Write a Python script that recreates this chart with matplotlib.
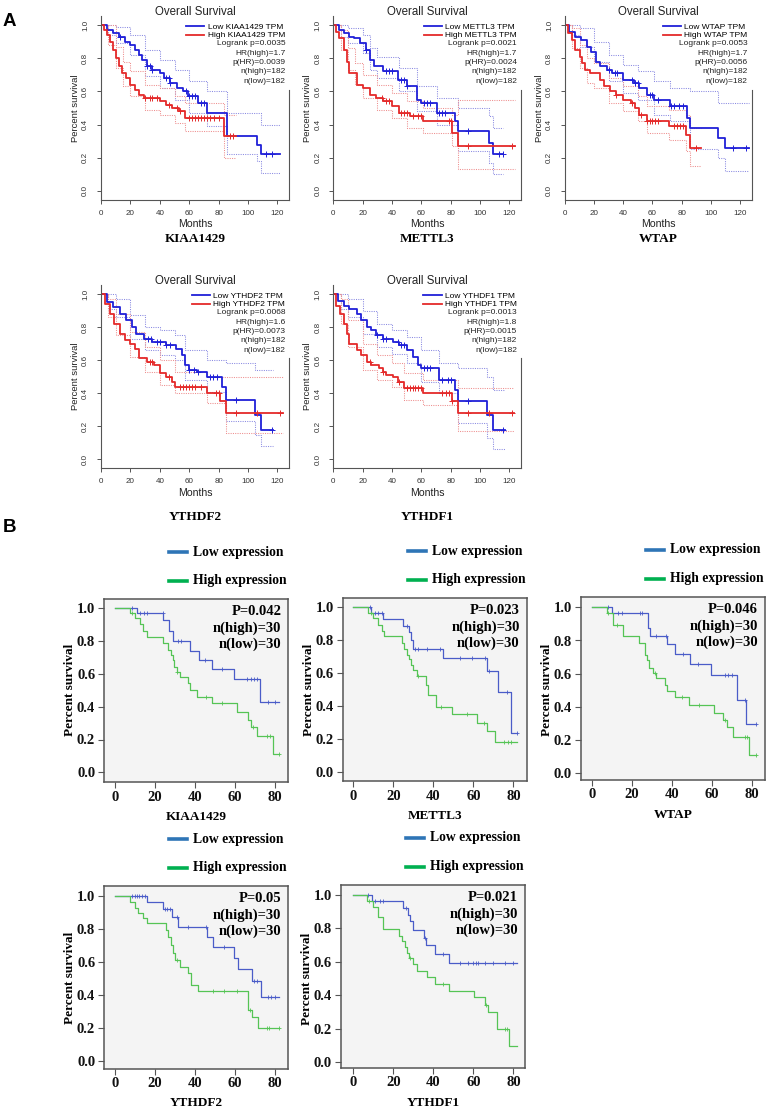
import matplotlib
matplotlib.use('agg')
import matplotlib.pyplot as plt
import numpy as np

# ---------------- Panel A: GEPIA overall survival (TCGA) ----------------
a_genes = ['KIAA1429', 'METTL3', 'WTAP', 'YTHDF2', 'YTHDF1']
a_logrank = ['0.0035', '0.0021', '0.0053', '0.0068', '0.0013']
a_hr = ['1.7', '1.7', '1.7', '1.6', '1.8']
a_phr = ['0.0039', '0.0024', '0.0056', '0.0073', '0.0015']
a_n_high = 182
a_n_low = 182

# KIAA1429
kiaa_low_t = [0, 4, 8, 12, 16, 20, 23, 26, 28, 31, 35, 40, 43, 47, 52, 56, 59, 66, 72, 86, 106, 109, 122]
kiaa_low_s = [1.0, 0.97, 0.95, 0.93, 0.90, 0.88, 0.85, 0.82, 0.79, 0.75, 0.73, 0.71, 0.68, 0.65, 0.62, 0.60,
              0.57, 0.53, 0.47, 0.33, 0.28, 0.22, 0.22]
kiaa_low_cens = [13, 31, 33, 35, 44, 46, 47, 58, 60, 62, 64, 68, 70, 112, 116]
kiaa_low_ci_t = [0, 5, 10, 20, 30, 40, 50, 60, 72, 86, 106, 109, 122]
kiaa_low_ci_up = [1.0, 1.0, 0.99, 0.94, 0.85, 0.79, 0.73, 0.66, 0.60, 0.47, 0.47, 0.40, 0.40]
kiaa_low_ci_lo = [1.0, 0.94, 0.89, 0.82, 0.69, 0.62, 0.55, 0.47, 0.39, 0.22, 0.18, 0.11, 0.11]
kiaa_high_t = [0, 2, 4, 6, 8, 10, 12, 14, 17, 20, 23, 26, 29, 40, 44, 48, 53, 57, 84, 92]
kiaa_high_s = [1.0, 0.97, 0.94, 0.90, 0.85, 0.80, 0.75, 0.71, 0.68, 0.64, 0.61, 0.58, 0.56, 0.54, 0.52,
               0.50, 0.48, 0.44, 0.33, 0.33]
kiaa_high_cens = [30, 33, 35, 38, 46, 52, 54, 60, 62, 64, 66, 68, 70, 72, 74, 77, 80, 88, 90]
kiaa_high_ci_t = [0, 5, 10, 15, 20, 30, 40, 50, 57, 84, 92]
kiaa_high_ci_up = [1.0, 1.0, 0.87, 0.78, 0.72, 0.64, 0.62, 0.57, 0.53, 0.46, 0.46]
kiaa_high_ci_lo = [1.0, 0.88, 0.74, 0.63, 0.57, 0.49, 0.46, 0.41, 0.36, 0.20, 0.20]

# METTL3
mettl3_low_t = [0, 4, 7, 11, 14, 18, 22, 25, 28, 34, 44, 50, 57, 60, 71, 83, 85, 106, 109, 116]
mettl3_low_s = [1.0, 0.97, 0.95, 0.93, 0.92, 0.89, 0.85, 0.79, 0.75, 0.72, 0.67, 0.63, 0.55, 0.53, 0.47,
                0.42, 0.36, 0.29, 0.22, 0.22]
mettl3_low_cens = [22, 36, 38, 40, 46, 48, 50, 62, 64, 66, 72, 74, 76, 92, 113, 116]
mettl3_low_ci_t = [0, 5, 10, 20, 25, 30, 45, 57, 71, 85, 106, 109, 116]
mettl3_low_ci_up = [1.0, 1.0, 0.98, 0.94, 0.86, 0.81, 0.74, 0.63, 0.56, 0.50, 0.45, 0.38, 0.38]
mettl3_low_ci_lo = [1.0, 0.93, 0.89, 0.83, 0.73, 0.68, 0.60, 0.48, 0.40, 0.24, 0.17, 0.10, 0.10]
mettl3_high_t = [0, 2, 4, 7, 9, 11, 16, 20, 25, 29, 34, 40, 45, 52, 61, 81, 85, 124]
mettl3_high_s = [1.0, 0.96, 0.92, 0.85, 0.78, 0.71, 0.64, 0.62, 0.58, 0.56, 0.54, 0.51, 0.47, 0.45, 0.42,
                 0.35, 0.27, 0.27]
mettl3_high_cens = [33, 36, 38, 46, 48, 50, 54, 58, 60, 79, 80, 92, 122]
mettl3_high_ci_t = [0, 5, 10, 15, 20, 30, 40, 50, 61, 81, 85, 124]
mettl3_high_ci_up = [1.0, 0.97, 0.86, 0.77, 0.70, 0.64, 0.59, 0.54, 0.50, 0.46, 0.55, 0.55]
mettl3_high_ci_lo = [1.0, 0.85, 0.73, 0.64, 0.56, 0.49, 0.44, 0.38, 0.35, 0.27, 0.13, 0.13]

# WTAP
wtap_low_t = [0, 3, 7, 11, 15, 18, 21, 24, 29, 32, 40, 47, 51, 56, 61, 72, 84, 86, 105, 110, 126]
wtap_low_s = [1.0, 0.96, 0.93, 0.91, 0.87, 0.84, 0.78, 0.75, 0.73, 0.71, 0.67, 0.65, 0.62, 0.58, 0.55,
              0.51, 0.44, 0.38, 0.32, 0.26, 0.26]
wtap_low_cens = [30, 34, 36, 46, 48, 50, 58, 60, 64, 73, 75, 78, 81, 115, 124]
wtap_low_ci_t = [0, 5, 10, 20, 30, 40, 50, 61, 72, 86, 105, 110, 126]
wtap_low_ci_up = [1.0, 1.0, 0.98, 0.90, 0.82, 0.76, 0.72, 0.66, 0.62, 0.60, 0.53, 0.53, 0.53]
wtap_low_ci_lo = [1.0, 0.94, 0.87, 0.78, 0.66, 0.59, 0.55, 0.46, 0.42, 0.25, 0.20, 0.12, 0.12]
wtap_high_t = [0, 2, 5, 7, 10, 11.5, 14, 17, 24, 27, 31, 35, 40, 45, 48, 51, 56, 71, 83, 86, 93]
wtap_high_s = [1.0, 0.95, 0.91, 0.85, 0.81, 0.77, 0.73, 0.71, 0.67, 0.63, 0.60, 0.58, 0.55, 0.53, 0.50,
               0.46, 0.42, 0.39, 0.34, 0.26, 0.26]
wtap_high_cens = [35, 46, 52, 56, 58, 60, 62, 64, 75, 77, 79, 81, 90]
wtap_high_ci_t = [0, 5, 10, 15, 20, 30, 40, 50, 56, 71, 83, 86, 93]
wtap_high_ci_up = [1.0, 0.98, 0.88, 0.80, 0.77, 0.68, 0.63, 0.57, 0.51, 0.49, 0.46, 0.38, 0.38]
wtap_high_ci_lo = [1.0, 0.86, 0.74, 0.65, 0.62, 0.53, 0.48, 0.42, 0.35, 0.31, 0.24, 0.15, 0.15]

# YTHDF2
ythdf2_low_t = [0, 4, 8, 13, 17, 21, 24, 29, 35, 44, 51, 55, 57, 60, 65, 72, 82, 85, 105, 109, 117]
ythdf2_low_s = [1.0, 0.95, 0.92, 0.88, 0.84, 0.80, 0.76, 0.73, 0.71, 0.69, 0.67, 0.63, 0.57, 0.54, 0.53,
                0.50, 0.44, 0.36, 0.27, 0.18, 0.18]
ythdf2_low_cens = [32, 34, 38, 40, 44, 47, 60, 63, 66, 74, 76, 79, 92, 116]
ythdf2_low_ci_t = [0, 5, 10, 20, 30, 40, 50, 57, 72, 85, 105, 109, 117]
ythdf2_low_ci_up = [1.0, 1.0, 0.97, 0.87, 0.80, 0.78, 0.75, 0.66, 0.60, 0.58, 0.54, 0.54, 0.54]
ythdf2_low_ci_lo = [1.0, 0.91, 0.86, 0.73, 0.66, 0.63, 0.60, 0.48, 0.41, 0.23, 0.15, 0.08, 0.08]
ythdf2_high_t = [0, 2.5, 6, 9, 13, 16, 19.5, 23, 26, 31, 36, 40, 44, 48, 50, 72, 81, 85, 124]
ythdf2_high_s = [1.0, 0.94, 0.88, 0.82, 0.76, 0.72, 0.70, 0.67, 0.61, 0.59, 0.57, 0.52, 0.50, 0.47, 0.44,
                 0.40, 0.35, 0.28, 0.28]
ythdf2_high_cens = [33, 35, 46, 54, 56, 58, 60, 62, 64, 68, 78, 80, 92, 106, 122]
ythdf2_high_ci_t = [0, 5, 10, 20, 30, 40, 50, 72, 85, 124]
ythdf2_high_ci_up = [1.0, 0.97, 0.88, 0.77, 0.68, 0.60, 0.53, 0.50, 0.50, 0.50]
ythdf2_high_ci_lo = [1.0, 0.86, 0.75, 0.62, 0.53, 0.45, 0.40, 0.34, 0.16, 0.16]

# YTHDF1
ythdf1_low_t = [0, 3, 7, 11, 16, 19, 23, 26, 29, 34, 41, 45, 50, 54, 58, 60, 72, 83, 85, 105, 109, 117]
ythdf1_low_s = [1.0, 0.96, 0.93, 0.91, 0.88, 0.84, 0.80, 0.78, 0.75, 0.73, 0.71, 0.69, 0.66, 0.62, 0.57,
                0.55, 0.48, 0.42, 0.35, 0.27, 0.18, 0.18]
ythdf1_low_cens = [30, 34, 36, 44, 46, 48, 62, 64, 66, 74, 78, 80, 92, 116]
ythdf1_low_ci_t = [0, 5, 10, 20, 30, 40, 50, 60, 72, 85, 105, 109, 117]
ythdf1_low_ci_up = [1.0, 1.0, 0.97, 0.90, 0.82, 0.78, 0.74, 0.66, 0.58, 0.55, 0.50, 0.42, 0.42]
ythdf1_low_ci_lo = [1.0, 0.91, 0.86, 0.76, 0.68, 0.64, 0.58, 0.47, 0.40, 0.22, 0.13, 0.06, 0.06]
ythdf1_high_t = [0, 2, 4.5, 7, 9, 11, 16, 19, 23, 26, 31, 34, 36, 41, 44, 48, 61, 81, 85, 123]
ythdf1_high_s = [1.0, 0.93, 0.88, 0.82, 0.76, 0.70, 0.66, 0.63, 0.59, 0.57, 0.55, 0.53, 0.51, 0.50, 0.47,
                 0.43, 0.40, 0.35, 0.28, 0.28]
ythdf1_high_cens = [25, 34, 45, 50, 52, 54, 56, 58, 60, 74, 77, 79, 81, 92, 106, 122]
ythdf1_high_ci_t = [0, 5, 10, 20, 30, 40, 48, 61, 85, 123]
ythdf1_high_ci_up = [1.0, 0.97, 0.84, 0.70, 0.63, 0.58, 0.52, 0.48, 0.43, 0.43]
ythdf1_high_ci_lo = [1.0, 0.82, 0.68, 0.54, 0.48, 0.44, 0.36, 0.33, 0.17, 0.17]

# ---------------- Panel B: own cohort ----------------
b_genes = ['KIAA1429', 'METTL3', 'WTAP', 'YTHDF2', 'YTHDF1']
b_pvals = ['0.042', '0.023', '0.046', '0.05', '0.021']
b_n_high = 30
b_n_low = 30

b_kiaa_low_t = [0, 10.8, 24.2, 27.2, 28.8, 37.5, 42, 48.7, 59.5, 72.5, 82]
b_kiaa_low_s = [1.0, 0.97, 0.93, 0.86, 0.80, 0.74, 0.685, 0.63, 0.57, 0.43, 0.43]
b_kiaa_low_cens = [8.5, 12.5, 14.5, 16, 24, 31.5, 33, 45, 53.5, 66, 68, 69.5, 71, 76.5, 80]
b_kiaa_high_t = [0, 7.5, 10, 12.5, 14.2, 15.8, 24.2, 26.7, 27.8, 28.8, 29.5, 30.8, 32.5, 36.7, 37.5, 40.8,
                 48.7, 61.2, 66.7, 67.8, 70.8, 79, 82]
b_kiaa_high_s = [1.0, 0.97, 0.94, 0.905, 0.864, 0.827, 0.787, 0.746, 0.715, 0.685, 0.644, 0.614, 0.583,
                 0.543, 0.502, 0.461, 0.42, 0.37, 0.32, 0.278, 0.224, 0.112, 0.112]
b_kiaa_high_cens = [8.5, 31, 45.5, 53.5, 69, 76, 77.5, 82]

b_mettl3_low_t = [0, 8.7, 15, 25, 27.8, 28.8, 30, 45, 66.7, 72.5, 78.8, 82]
b_mettl3_low_s = [1.0, 0.968, 0.927, 0.887, 0.853, 0.80, 0.747, 0.69, 0.616, 0.485, 0.236, 0.236]
b_mettl3_low_cens = [8.3, 10.8, 12.5, 14.2, 27, 31, 32.5, 36.7, 43.3, 53.5, 59.5, 66, 68, 77, 82]
b_mettl3_high_t = [0, 7.5, 10, 12.5, 14.2, 15.5, 24.2, 25.3, 26.7, 28, 29, 30, 31.7, 36.2, 37.5, 41.3,
                   49.2, 61.7, 66.7, 70.8, 82]
b_mettl3_high_s = [1.0, 0.968, 0.933, 0.893, 0.859, 0.826, 0.786, 0.75, 0.711, 0.685, 0.65, 0.62, 0.584,
                   0.53, 0.469, 0.398, 0.354, 0.30, 0.248, 0.182, 0.182]
b_mettl3_high_cens = [9, 32.5, 44, 57, 65.5, 75.5, 77.5, 79]

b_wtap_low_t = [0, 10, 28, 29.2, 37.5, 41.7, 49.2, 59.5, 72.8, 77, 82]
b_wtap_low_s = [1.0, 0.966, 0.873, 0.827, 0.777, 0.717, 0.657, 0.592, 0.444, 0.295, 0.295]
b_wtap_low_cens = [8.3, 13.3, 15, 24, 25, 32.2, 37, 45.8, 53, 66.7, 68.3, 70, 76.5, 82]
b_wtap_high_t = [0, 7.5, 10.8, 15.8, 23.8, 26.7, 27.5, 28.8, 30.8, 32.2, 36.7, 37.5, 41.7, 48.8, 61.3,
                 65.8, 67.5, 70.5, 78.8, 82]
b_wtap_high_s = [1.0, 0.966, 0.896, 0.827, 0.787, 0.713, 0.681, 0.637, 0.607, 0.574, 0.532, 0.494, 0.458,
                 0.414, 0.363, 0.319, 0.279, 0.219, 0.11, 0.11]
b_wtap_high_cens = [8.3, 12.5, 31.5, 45, 53.5, 66.5, 76.7, 77.8, 82]

b_ythdf2_low_t = [0, 15.8, 24.2, 28.3, 31.7, 46.2, 49.2, 59.7, 61.3, 68.3, 73, 82]
b_ythdf2_low_s = [1.0, 0.96, 0.917, 0.869, 0.808, 0.752, 0.69, 0.62, 0.554, 0.483, 0.385, 0.385]
b_ythdf2_low_cens = [8.3, 10, 11.2, 12.2, 13.3, 15, 25, 26, 27.5, 30.8, 36.7, 45.5, 54.5, 69.5, 71,
                     76.5, 78, 80]
b_ythdf2_high_t = [0, 7.5, 10, 11.7, 14.2, 15.8, 25.3, 26.7, 27.8, 28.8, 30, 32.5, 36.7, 37.8, 41.7, 66.7,
                   68.3, 71.7, 82]
b_ythdf2_high_s = [1.0, 0.964, 0.927, 0.893, 0.863, 0.832, 0.79, 0.747, 0.70, 0.65, 0.61, 0.566, 0.53,
                   0.459, 0.422, 0.307, 0.267, 0.196, 0.196]
b_ythdf2_high_cens = [31, 49, 54.5, 61, 67.5, 76, 77, 82]

b_ythdf1_low_t = [0, 9.2, 25, 27.5, 28.3, 30, 35.3, 36.2, 40.8, 48, 82]
b_ythdf1_low_s = [1.0, 0.966, 0.923, 0.883, 0.843, 0.788, 0.744, 0.70, 0.645, 0.59, 0.59]
b_ythdf1_low_cens = [7.5, 10.8, 13.3, 14.7, 26.5, 36, 45, 53.3, 57.5, 60, 61.3, 62.5, 65.8, 70, 75.8, 80]
b_ythdf1_high_t = [0, 6.7, 10, 12.5, 15, 23, 24.2, 25.8, 26.7, 28, 30, 31.7, 36.7, 40.8, 48, 60.3, 65.8,
                   67.2, 71.7, 78, 82]
b_ythdf1_high_s = [1.0, 0.966, 0.93, 0.867, 0.794, 0.752, 0.724, 0.688, 0.653, 0.625, 0.585, 0.546, 0.51,
                   0.47, 0.427, 0.39, 0.34, 0.30, 0.198, 0.098, 0.098]
b_ythdf1_high_cens = [8, 28.5, 45, 66.5, 76, 77]

W, H = 767, 1114
fig = plt.figure(figsize=(W / 100, H / 100), dpi=100)

SANS = 'Liberation Sans'
SERIF = 'Liberation Serif'
A_BLUE, A_RED = '#2020d8', '#e42a2a'
A_BLUE_CI, A_RED_CI = '#8a8ae2', '#ee8e8e'


def add_ax(left, right, top, bottom):
    # axes placed in pixel coordinates (origin top-left)
    return fig.add_axes([left / W, 1 - bottom / H, (right - left) / W, (bottom - top) / H])


def ftext(x, y, s, **kw):
    fig.text(x / W, 1 - y / H, s, **kw)


def level_at(t, s, c):
    idx = np.searchsorted(t, c, side='right') - 1
    return np.asarray(s)[idx]


def gepia_plot(i, x0, kx, y0, ky, low, high):
    L, R = x0, x0 + 128 * kx
    T, B = y0 - 1.055 * ky, y0 + 9
    ax = add_ax(L, R, T, B)
    ax.set_xlim(0, 128)
    ax.set_ylim(-9 / ky, 1.055)
    for curve, cicol in [(low, A_BLUE_CI), (high, A_RED_CI)]:
        ci_t, ci_up, ci_lo = curve[3:]
        ax.step(ci_t, ci_up, where='post', color=cicol, lw=0.75, ls=(0, (1, 1.2)))
        ax.step(ci_t, ci_lo, where='post', color=cicol, lw=0.75, ls=(0, (1, 1.2)))
    for curve, col in [(low, A_BLUE), (high, A_RED)]:
        t, s, cens = curve[:3]
        ax.step(t, s, where='post', color=col, lw=1.3)
        ax.plot(cens, level_at(t, s, cens), ls='none', marker='+', ms=5, mew=0.7, color=col)
    ax.spines['top'].set_visible(False)
    ax.spines['right'].set_bounds(-9 / ky, 0.61)
    for side in ['left', 'bottom', 'right']:
        ax.spines[side].set_color('#555555')
        ax.spines[side].set_linewidth(0.8)
    ax.set_xticks(range(0, 121, 20))
    ax.set_yticks([0, 0.2, 0.4, 0.6, 0.8, 1.0])
    ax.set_yticklabels(['0.0', '0.2', '0.4', '0.6', '0.8', '1.0'], rotation=90, va='center')
    ax.tick_params(labelsize=5.8, length=3, width=0.7, color='#555555', labelcolor='#333333')
    ax.tick_params(axis='y', pad=5.5)
    ax.tick_params(axis='x', pad=4)
    for lab in ax.get_xticklabels() + ax.get_yticklabels():
        lab.set_family(SANS)

    gene = a_genes[i]
    h1, = ax.plot([], [], color=A_BLUE, lw=1.3)
    h2, = ax.plot([], [], color=A_RED, lw=1.3)
    ax.legend([h1, h2], ['Low %s TPM' % gene, 'High %s TPM' % gene], loc='upper right',
              bbox_to_anchor=((R - 4) / W, 1 - (T + 7.5) / H), bbox_transform=fig.transFigure,
              frameon=False, borderpad=0, borderaxespad=0, handlelength=2.2, handletextpad=0.4,
              labelspacing=0.05, prop={'family': SANS, 'size': 6})
    stats = ['Logrank p=%s' % a_logrank[i], 'HR(high)=%s' % a_hr[i], 'p(HR)=%s' % a_phr[i],
             'n(high)=%d' % a_n_high, 'n(low)=%d' % a_n_low]
    for k, line in enumerate(stats):
        ftext(R - 4, T + 28 + 9.35 * k, line, ha='right', va='center', family=SANS, size=6,
              color='#222222')

    ftext((L + R) / 2, T - 4, 'Overall Survival', ha='center', va='center', family=SANS, size=8.3,
          color='#222222')
    ftext(x0 - 26, y0 - 0.5 * ky, 'Percent survival', ha='center', va='center', rotation=90,
          family=SANS, size=6.8, color='#222222')
    return L, R, B


def spss_plot(i, L, T, x0, y0, ky, low, high):
    R, B = L + 184, T + 183
    kx = 2.0
    ax = add_ax(L, R, T, B)
    ax.set_xlim((L - x0) / kx, (R - x0) / kx)
    ax.set_ylim((y0 - B) / ky, (y0 - T) / ky)
    ax.set_facecolor('#f4f4f4')
    for curve, col in [(low, '#4a5cc8'), (high, '#55c455')]:
        t, s, cens = curve
        ax.step(t, s, where='post', color=col, lw=0.9)
        ax.plot(cens, level_at(t, s, cens), ls='none', marker='+', ms=2.8, mew=0.6, color=col)
    for side in ax.spines:
        ax.spines[side].set_color('#555555')
        ax.spines[side].set_linewidth(1.1)
    ax.set_xticks(range(0, 81, 20))
    ax.set_yticks([0, 0.2, 0.4, 0.6, 0.8, 1.0])
    ax.set_yticklabels(['0.0', '0.2', '0.4', '0.6', '0.8', '1.0'])
    ax.tick_params(labelsize=10.5, length=4, width=0.8, color='#555555', labelcolor='#111111')
    ax.tick_params(axis='y', pad=2.6)
    ax.tick_params(axis='x', pad=2)
    for lab in ax.get_xticklabels() + ax.get_yticklabels():
        lab.set_family(SERIF)
        lab.set_weight('bold')

    # legend above the box
    for yy, col, name in [(T - 47, '#2e75b6', 'Low expression'), (T - 18.5, '#00b050', 'High expression')]:
        fig.add_artist(plt.Line2D([(L + 65) / W, (L + 83) / W], [1 - yy / H, 1 - yy / H],
                                  color=col, lw=2.6, transform=fig.transFigure))
        ftext(L + 89, yy, name, ha='left', va='center', family=SERIF, weight='bold', size=9.8)

    stats = ['P=%s' % b_pvals[i], 'n(high)=%d' % b_n_high, 'n(low)=%d' % b_n_low]
    for k, line in enumerate(stats):
        ftext(R - 7, T + 12.5 + 16.3 * k, line, ha='right', va='center', family=SERIF,
              weight='bold', size=10.5)
    ftext(L - 34, y0 - 0.5 * ky, 'Percent survival', ha='center', va='center', rotation=90,
          family=SERIF, weight='bold', size=9.5)
    ftext((L + R) / 2, B + 34.5, b_genes[i], ha='center', va='center', family=SERIF,
          weight='bold', size=9.5)


a_curves = [
    ((kiaa_low_t, kiaa_low_s, kiaa_low_cens, kiaa_low_ci_t, kiaa_low_ci_up, kiaa_low_ci_lo),
     (kiaa_high_t, kiaa_high_s, kiaa_high_cens, kiaa_high_ci_t, kiaa_high_ci_up, kiaa_high_ci_lo)),
    ((mettl3_low_t, mettl3_low_s, mettl3_low_cens, mettl3_low_ci_t, mettl3_low_ci_up, mettl3_low_ci_lo),
     (mettl3_high_t, mettl3_high_s, mettl3_high_cens, mettl3_high_ci_t, mettl3_high_ci_up, mettl3_high_ci_lo)),
    ((wtap_low_t, wtap_low_s, wtap_low_cens, wtap_low_ci_t, wtap_low_ci_up, wtap_low_ci_lo),
     (wtap_high_t, wtap_high_s, wtap_high_cens, wtap_high_ci_t, wtap_high_ci_up, wtap_high_ci_lo)),
    ((ythdf2_low_t, ythdf2_low_s, ythdf2_low_cens, ythdf2_low_ci_t, ythdf2_low_ci_up, ythdf2_low_ci_lo),
     (ythdf2_high_t, ythdf2_high_s, ythdf2_high_cens, ythdf2_high_ci_t, ythdf2_high_ci_up, ythdf2_high_ci_lo)),
    ((ythdf1_low_t, ythdf1_low_s, ythdf1_low_cens, ythdf1_low_ci_t, ythdf1_low_ci_up, ythdf1_low_ci_lo),
     (ythdf1_high_t, ythdf1_high_s, ythdf1_high_cens, ythdf1_high_ci_t, ythdf1_high_ci_up, ythdf1_high_ci_lo)),
]
b_curves = [
    ((b_kiaa_low_t, b_kiaa_low_s, b_kiaa_low_cens), (b_kiaa_high_t, b_kiaa_high_s, b_kiaa_high_cens)),
    ((b_mettl3_low_t, b_mettl3_low_s, b_mettl3_low_cens), (b_mettl3_high_t, b_mettl3_high_s, b_mettl3_high_cens)),
    ((b_wtap_low_t, b_wtap_low_s, b_wtap_low_cens), (b_wtap_high_t, b_wtap_high_s, b_wtap_high_cens)),
    ((b_ythdf2_low_t, b_ythdf2_low_s, b_ythdf2_low_cens), (b_ythdf2_high_t, b_ythdf2_high_s, b_ythdf2_high_cens)),
    ((b_ythdf1_low_t, b_ythdf1_low_s, b_ythdf1_low_cens), (b_ythdf1_high_t, b_ythdf1_high_s, b_ythdf1_high_cens)),
]

# layout (pixels): x of month 0, px per month, y of survival 0, px per unit survival, Months/gene label y
a_layout = [(101, 1.47, 191, 166, 224, 239), (333.3, 1.467, 191, 166, 224, 239),
            (565, 1.458, 191, 166, 224, 239), (101, 1.47, 459.3, 165.3, 493, 517),
            (333.3, 1.467, 459.3, 165.3, 493, 517)]
for i, (x0, kx, y0, ky, my, gy) in enumerate(a_layout):
    L, R, B = gepia_plot(i, x0, kx, y0, ky, *a_curves[i])
    ftext((L + R) / 2, my, 'Months', ha='center', va='center', family=SANS, size=7.6, color='#222222')
    ftext((L + R) / 2, gy, a_genes[i], ha='center', va='center', family=SERIF, weight='bold', size=9.5)

b_layout = [(104.3, 599.3, 115, 772.3, 164), (342.7, 598.3, 353.4, 772.3, 165),
            (581, 597, 591.7, 773.3, 166), (104.3, 886, 115, 1060.7, 165),
            (341, 885, 353.4, 1062, 167)]
for i, (L, T, x0, y0, ky) in enumerate(b_layout):
    spss_plot(i, L, T, x0, y0, ky, *b_curves[i])

ftext(9, 21, 'A', ha='center', va='center', family=SANS, weight='bold', size=13.5)
ftext(9, 527, 'B', ha='center', va='center', family=SANS, weight='bold', size=13.5)

fig.savefig('out.png', dpi=100)
